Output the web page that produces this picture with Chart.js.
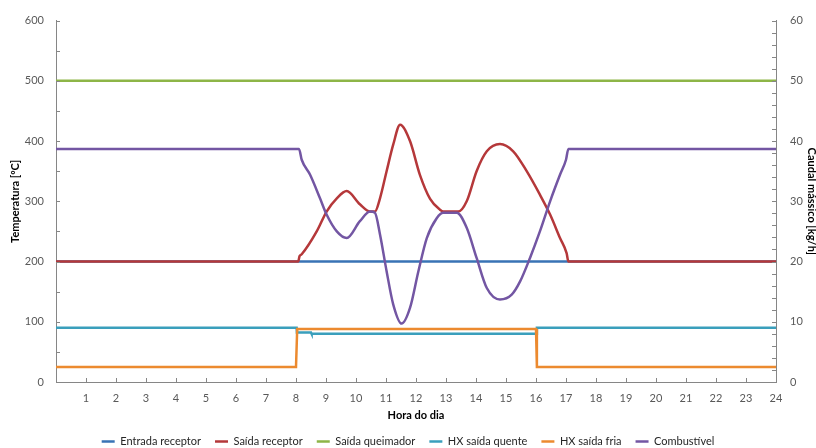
<!DOCTYPE html>
<html>
<head>
<meta charset="utf-8">
<script src="https://cdn.jsdelivr.net/npm/chart.js@4"></script>
<style>
  body { margin: 0; background: #fff; }
  #wrap { width: 816px; height: 448px; }
</style>
</head>
<body>
<div id="wrap"><canvas id="chart" width="816" height="448"></canvas></div>
<script>
// hour of day for each series (x values)
const flatHours = [0, 24];
const receptorHours = [0, 8.07, 8.12, 8.19, 8.69, 9.02, 9.36, 9.69, 10.13, 10.47, 10.63, 10.8, 11.02, 11.24, 11.47,
    11.8, 12.13, 12.47, 12.8, 12.91, 13.41, 13.69, 14.02, 14.36, 14.8, 15.24, 15.69, 16.13, 16.47, 16.8, 17.02, 17.08, 24];
const fuelHours = [0, 8.1, 8.19, 8.47, 8.8, 9.02, 9.36, 9.69, 10.13, 10.47, 10.63, 10.8, 11.02, 11.24, 11.52, 11.8,
    12.08, 12.36, 12.69, 12.91, 13.36, 13.69, 14.02, 14.36, 14.8, 15.19, 15.47, 15.8, 16.13, 16.47, 16.8, 17.0, 17.08, 24];
const hxHotHours = [0, 8.02, 8.03, 8.5, 8.52, 16.0, 16.03, 24];
const hxColdHours = [0, 8.0, 8.04, 16.0, 16.03, 24];

// values, temperatures in ºC and fuel flow in kg/h
const entradaReceptor = [200, 200];
const saidaReceptor = [200, 200, 209, 212, 250, 283, 305, 317, 295, 283, 283, 305, 350, 394, 427,
    400, 344, 304, 286, 283, 283, 300, 350, 383, 395, 383, 350, 311, 278, 239, 214, 200, 200];
const saidaQueimador = [500, 500];
const hxSaidaQuente = [90, 90, 82, 82, 80, 80, 90, 90];
const hxSaidaFria = [25, 25, 88, 88, 25, 25];
const combustivel = [38.7, 38.7, 36.9, 34.4, 30.5, 27.8, 25.0, 23.9, 26.7, 28.3, 28.1, 24.5, 18.4, 12.9, 9.7, 12.3,
    18.4, 23.9, 27.2, 28.1, 28.1, 25.6, 20.6, 15.6, 13.7, 14.5, 16.7, 20.6, 25.0, 30.0, 34.4, 36.9, 38.7, 38.7];

function toPoints(hours, values) {
    return hours.map((h, i) => ({ x: h, y: values[i] }));
}

function series(label, hours, values, color, order, axis, smooth) {
    return {
        label: label,
        data: toPoints(hours, values),
        borderColor: color,
        backgroundColor: color,
        borderWidth: 2.5,
        pointRadius: 0,
        order: order,
        yAxisID: axis,
        cubicInterpolationMode: smooth ? 'monotone' : 'default',
        tension: 0
    };
}

const axisColor = '#868686';

// short tick marks pointing into the plot, like the original
const innerTicks = {
    id: 'innerTicks',
    afterDraw(chart) {
        const { ctx, chartArea, scales } = chart;
        ctx.save();
        ctx.strokeStyle = axisColor;
        ctx.lineWidth = 1;
        ctx.beginPath();
        for (let v = 0; v <= 600; v += 50) {
            const y = Math.round(scales.y.getPixelForValue(v)) + 0.5;
            ctx.moveTo(chartArea.left, y);
            ctx.lineTo(chartArea.left + 4, y);
        }
        for (let v = 0; v <= 60; v += 2) {
            const y = Math.round(scales.y1.getPixelForValue(v)) + 0.5;
            ctx.moveTo(chartArea.right, y);
            ctx.lineTo(chartArea.right - 4, y);
        }
        for (let h = 0; h <= 24; h++) {
            const x = Math.round(scales.x.getPixelForValue(h)) + 0.5;
            ctx.moveTo(x, chartArea.bottom);
            ctx.lineTo(x, chartArea.bottom - 4);
        }
        ctx.stroke();
        ctx.restore();
    }
};

const tickFont = { family: 'Lato', size: 11 };
const titleFont = { family: 'Lato', size: 11, weight: 'bold' };

new Chart(document.getElementById('chart'), {
    type: 'line',
    data: {
        datasets: [
            series('Entrada receptor', flatHours, entradaReceptor, '#3973B5', 3, 'y', false),
            series('Saída receptor', receptorHours, saidaReceptor, '#B5383A', 1, 'y', true),
            series('Saída queimador', flatHours, saidaQueimador, '#8DB547', 5, 'y', false),
            series('HX saída quente', hxHotHours, hxSaidaQuente, '#3A9FBC', 4, 'y', false),
            series('HX saída fria', hxColdHours, hxSaidaFria, '#EC8A2F', 2, 'y', false),
            series('Combustível', fuelHours, combustivel, '#7356A3', 0, 'y1', true)
        ]
    },
    options: {
        responsive: false,
        animation: false,
        layout: { padding: { top: 17, left: 0, right: 0, bottom: -9 } },
        plugins: {
            tooltip: { enabled: false },
            legend: {
                position: 'bottom',
                labels: {
                    font: tickFont,
                    color: '#262626',
                    usePointStyle: true,
                    pointStyle: 'line',
                    pointStyleWidth: 13,
                    boxHeight: 11,
                    padding: 14,
                    sort: (a, b) => a.datasetIndex - b.datasetIndex
                }
            }
        },
        scales: {
            x: {
                type: 'linear',
                min: 0,
                max: 24,
                grid: { display: true, drawOnChartArea: false, drawTicks: false },
                border: { display: true, color: axisColor },
                ticks: {
                    stepSize: 1,
                    autoSkip: false,
                    maxRotation: 0,
                    padding: 10,
                    color: '#595959',
                    font: tickFont,
                    callback: v => (v === 0 ? '' : v)
                },
                title: { display: true, text: 'Hora do dia', font: titleFont, color: '#000', padding: { top: 0, bottom: 0 } },
                afterFit: s => { s.height = 40; }
            },
            y: {
                position: 'left',
                min: 0,
                max: 600,
                grid: { display: true, drawOnChartArea: false, drawTicks: false },
                border: { display: true, color: axisColor },
                ticks: { stepSize: 100, padding: 12, color: '#595959', font: tickFont },
                title: { display: true, text: 'Temperatura [ºC]', font: titleFont, color: '#000', padding: { top: 9, bottom: 0 } },
                afterFit: s => { s.width = 56; }
            },
            y1: {
                position: 'right',
                min: 0,
                max: 60,
                grid: { display: true, drawOnChartArea: false, drawTicks: false },
                border: { display: true, color: axisColor },
                ticks: { stepSize: 10, padding: 14, color: '#595959', font: tickFont },
                title: { display: true, text: 'Caudal mássico [kg/h]', font: titleFont, color: '#000', padding: { top: -2, bottom: 0 } },
                afterFit: s => { s.width = 40; }
            }
        }
    },
    plugins: [innerTicks]
});
</script>
</body>
</html>
